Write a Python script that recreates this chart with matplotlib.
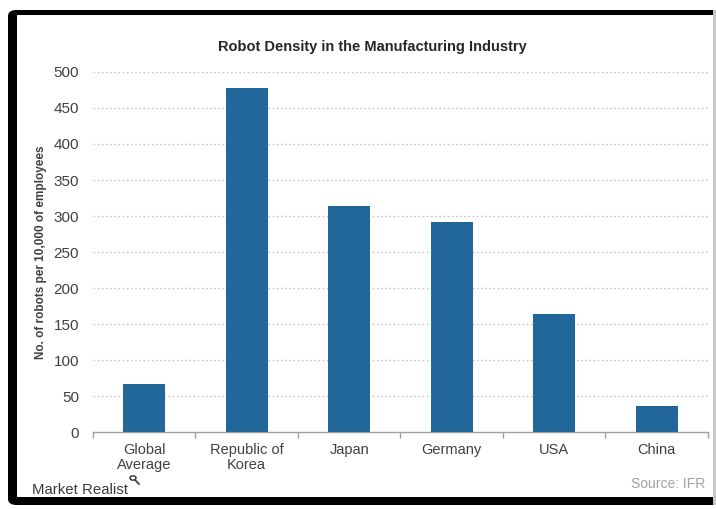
import matplotlib
matplotlib.use("Agg")
import matplotlib.pyplot as plt
from matplotlib.patches import FancyBboxPatch, Rectangle, Circle
from matplotlib.lines import Line2D
import numpy as np

plt.rcParams['font.family'] = ['Liberation Sans', 'DejaVu Sans']

# data
countries = ["Global\nAverage", "Republic of\nKorea", "Japan", "Germany", "USA", "China"]
density = [66, 478, 314, 292, 164, 36]
yticks = [0, 50, 100, 150, 200, 250, 300, 350, 400, 450, 500]

W, H = 716, 509
fig = plt.figure(figsize=(W / 100, H / 100), dpi=100)
fig.patch.set_facecolor("white")

# black rounded frame round the chart, cut off at the right
frame = FancyBboxPatch((8 / W, 4 / H), 730 / W, 495 / H,
                       boxstyle="round,pad=0,rounding_size=0.012",
                       transform=fig.transFigure, facecolor="black",
                       edgecolor="none", zorder=0)
fig.patches.append(frame)
inner = Rectangle((17 / W, 12 / H), 696 / W, 482 / H, transform=fig.transFigure,
                  facecolor="white", edgecolor="none", zorder=0.5)
fig.patches.append(inner)
edge = Rectangle((713 / W, 4 / H), 3 / W, 495 / H, transform=fig.transFigure,
                 facecolor="#c8c8c8", edgecolor="none", zorder=0.5)
fig.patches.append(edge)

ax = fig.add_axes([93 / W, (H - 432) / H, 615 / W, 360 / H])
ax.set_facecolor("none")
ax.set_zorder(2)

x = np.arange(len(countries))
ax.bar(x, density, width=0.41, color="#21679a", zorder=3)

ax.set_xlim(-0.5, len(countries) - 0.5)
ax.set_ylim(0, 500)
ax.set_yticks(yticks)
ax.set_yticklabels([str(v) for v in yticks])
ax.set_xticks(x)
ax.set_xticklabels(countries, linespacing=1.1)
ax.set_xticks(np.arange(-0.5, len(countries)), minor=True)

for v in yticks[1:]:
    ax.axhline(v, color="#c4c4c4", linestyle=(0, (1.2, 1.8)), linewidth=1.0, zorder=1)

for s in ["top", "right", "left"]:
    ax.spines[s].set_visible(False)
ax.spines["bottom"].set_color("#a0a0a0")
ax.spines["bottom"].set_linewidth(1.0)

ax.tick_params(axis="y", length=0, pad=10, labelsize=11, labelcolor="#404040")
ax.tick_params(axis="x", which="major", length=0, pad=8, labelsize=10.5, labelcolor="#404040")
ax.tick_params(axis="x", which="minor", length=4, color="#a0a0a0", width=1.0)

ax.set_ylabel("No. of robots per 10,000 of employees", fontsize=8.5,
              fontweight="bold", color="#404040", labelpad=5)

fig.text(372 / W, (H - 47) / H, "Robot Density in the Manufacturing Industry",
         ha="center", va="center", fontsize=10.5, fontweight="bold", color="#262626")

fig.text(32 / W, (H - 490) / H, "Market Realist", ha="left", va="center",
         fontsize=10.8, color="#3a3a3a")
# small magnifying glass after the brand name
fig.patches.append(Circle((133 / W, (H - 478) / H), 3.0 / W, transform=fig.transFigure,
                          facecolor="none", edgecolor="#3a3a3a", linewidth=1.1, zorder=3))
fig.lines.append(Line2D([135.5 / W, 139 / W], [(H - 480.5) / H, (H - 484) / H],
                        transform=fig.transFigure, color="#3a3a3a", linewidth=1.2, zorder=3))

fig.text(705 / W, (H - 484) / H, "Source: IFR", ha="right", va="center",
         fontsize=10, color="#a0a0a0")

fig.savefig("out.png", dpi=100, facecolor=fig.get_facecolor())
